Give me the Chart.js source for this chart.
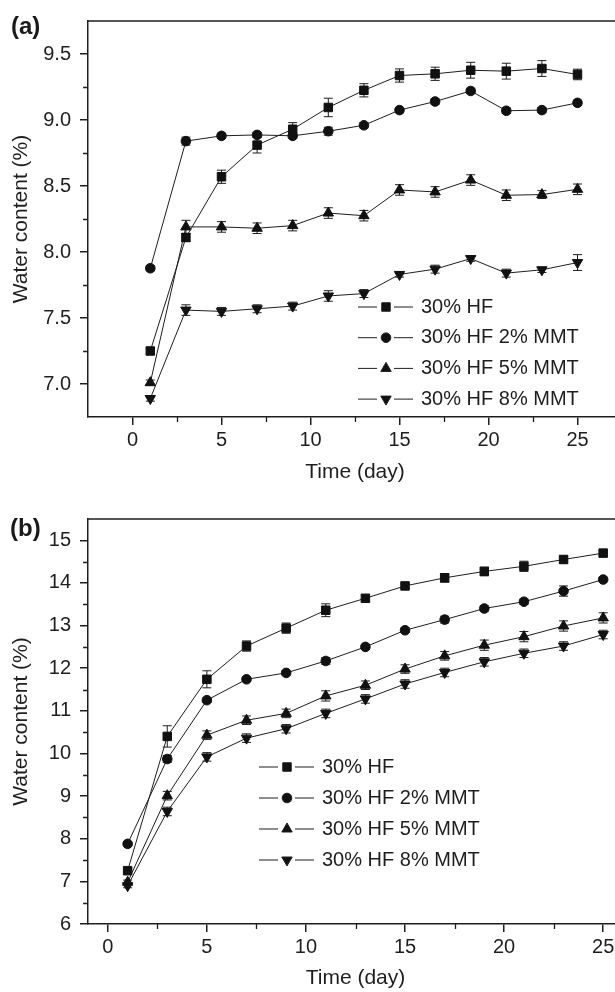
<!DOCTYPE html>
<html>
<head>
<meta charset="utf-8">
<script src="https://cdn.jsdelivr.net/npm/chart.js@4/dist/chart.umd.min.js"></script>
<style>
  html, body { margin: 0; padding: 0; background: #fff; overflow: hidden; }
  #wrap { position: relative; width: 615px; height: 992px; overflow: hidden; }
  canvas { position: absolute; left: 0; }
  #chartA { top: 0; }
  #chartB { top: 495px; }
  .tag { position: absolute; font: bold 24px 'Liberation Sans', Arial, sans-serif; line-height: 1; color: #1a1a1a; }
</style>
</head>
<body>
<div id="wrap">
  <canvas id="chartA" width="630" height="495"></canvas>
  <canvas id="chartB" width="630" height="497"></canvas>
  <div class="tag" style="left:11px; top:14px;">(a)</div>
  <div class="tag" style="left:10px; top:516px;">(b)</div>
</div>
<script>
// sampling days
const days = [1, 3, 5, 7, 9, 11, 13, 15, 17, 19, 21, 23, 25];
const seriesNames = ['30% HF', '30% HF 2% MMT', '30% HF 5% MMT', '30% HF 8% MMT'];

// panel (a)
const aHF   = [7.25, 8.11, 8.57, 8.81, 8.93, 9.095, 9.225, 9.337, 9.35, 9.377, 9.37, 9.39, 9.345];
const aMMT2 = [7.877, 8.84, 8.88, 8.887, 8.88, 8.915, 8.96, 9.075, 9.14, 9.22, 9.07, 9.075, 9.13];
const aMMT5 = [7.01, 8.19, 8.19, 8.18, 8.20, 8.295, 8.275, 8.47, 8.455, 8.545, 8.43, 8.435, 8.475];
const aMMT8 = [6.89, 7.56, 7.55, 7.57, 7.59, 7.667, 7.685, 7.83, 7.87, 7.95, 7.84, 7.865, 7.92];
const aErrHF   = [0.02, 0.03, 0.05, 0.06, 0.05, 0.07, 0.05, 0.05, 0.05, 0.06, 0.06, 0.06, 0.04];
const aErrMMT2 = [0.02, 0.03, 0.02, 0.02, 0.02, 0.03, 0.02, 0.02, 0.02, 0.02, 0.02, 0.02, 0.02];
const aErrMMT5 = [0.02, 0.05, 0.04, 0.04, 0.04, 0.04, 0.04, 0.04, 0.04, 0.04, 0.04, 0.03, 0.04];
const aErrMMT8 = [0.02, 0.04, 0.03, 0.03, 0.03, 0.04, 0.03, 0.02, 0.03, 0.02, 0.03, 0.02, 0.06];

// panel (b)
const bHF   = [7.25, 10.40, 11.74, 12.52, 12.94, 13.36, 13.64, 13.93, 14.12, 14.27, 14.39, 14.55, 14.70];
const bMMT2 = [7.88, 9.87, 11.25, 11.74, 11.89, 12.17, 12.50, 12.89, 13.14, 13.40, 13.56, 13.81, 14.08];
const bMMT5 = [6.98, 9.01, 10.43, 10.78, 10.94, 11.35, 11.60, 11.98, 12.29, 12.54, 12.74, 12.99, 13.18];
const bMMT8 = [6.90, 8.64, 9.92, 10.36, 10.58, 10.94, 11.28, 11.63, 11.90, 12.15, 12.35, 12.52, 12.79];
const bErrHF   = [0.05, 0.25, 0.2, 0.12, 0.12, 0.15, 0.08, 0.05, 0.1, 0.1, 0.12, 0.08, 0.06];
const bErrMMT2 = [0.05, 0.08, 0.05, 0.05, 0.05, 0.08, 0.06, 0.05, 0.08, 0.06, 0.06, 0.12, 0.05];
const bErrMMT5 = [0.05, 0.1, 0.1, 0.1, 0.1, 0.12, 0.1, 0.1, 0.1, 0.12, 0.12, 0.12, 0.12];
const bErrMMT8 = [0.05, 0.1, 0.1, 0.1, 0.1, 0.1, 0.1, 0.1, 0.1, 0.1, 0.1, 0.1, 0.1];

// ticks
const xTicks = [0, 5, 10, 15, 20, 25];
const xMinor = [2.5, 7.5, 12.5, 17.5, 22.5];
const aYTicks = [7.0, 7.5, 8.0, 8.5, 9.0, 9.5];
const aYMinor = [7.25, 7.75, 8.25, 8.75, 9.25];
const bYTicks = [6, 7, 8, 9, 10, 11, 12, 13, 14, 15];
const bYMinor = [6.5, 7.5, 8.5, 9.5, 10.5, 11.5, 12.5, 13.5, 14.5];

const ink = '#1e1e1e';
const FONT = "'Liberation Sans', Arial, Helvetica, sans-serif";
Chart.defaults.font.family = FONT;
Chart.defaults.color = ink;

const markers = [
  { pointStyle: 'rect', radius: 6, rotation: 0 },
  { pointStyle: 'circle', radius: 4.8, rotation: 0 },
  { pointStyle: 'triangle', radius: 6, rotation: 0 },
  { pointStyle: 'triangle', radius: 6, rotation: 180 }
];

function makeDatasets(values, errors) {
  return values.map((vals, i) => ({
    label: seriesNames[i],
    data: days.map((d, j) => ({ x: d, y: vals[j] })),
    errors: errors[i],
    borderColor: ink,
    borderWidth: 1,
    backgroundColor: '#111',
    pointBackgroundColor: '#111',
    pointBorderColor: '#111',
    pointBorderWidth: 1,
    pointStyle: markers[i].pointStyle,
    pointRotation: markers[i].rotation,
    pointRadius: markers[i].radius,
    tension: 0,
    fill: false
  }));
}

// frame, minor ticks and error bars
const framePlugin = {
  id: 'frame',
  beforeDatasetsDraw(chart, args, opts) {
    const { ctx, chartArea: a, scales: { x, y } } = chart;
    ctx.save();
    ctx.strokeStyle = ink;
    ctx.lineWidth = 1.5;
    ctx.beginPath();
    ctx.moveTo(a.left, a.top);
    ctx.lineTo(a.right, a.top);
    ctx.lineTo(a.right, a.bottom);
    ctx.stroke();

    ctx.lineWidth = 1.3;
    ctx.beginPath();
    opts.minorX.forEach(v => {
      const px = Math.round(x.getPixelForValue(v)) + 0.5;
      ctx.moveTo(px, a.bottom);
      ctx.lineTo(px, a.bottom + 5);
    });
    opts.minorY.forEach(v => {
      const py = Math.round(y.getPixelForValue(v)) + 0.5;
      ctx.moveTo(a.left, py);
      ctx.lineTo(a.left - 5, py);
    });
    ctx.stroke();

    ctx.lineWidth = 1;
    ctx.beginPath();
    chart.data.datasets.forEach(ds => {
      ds.data.forEach((p, j) => {
        const e = ds.errors[j];
        const px = x.getPixelForValue(p.x);
        const hi = y.getPixelForValue(p.y + e);
        const lo = y.getPixelForValue(p.y - e);
        ctx.moveTo(px, hi); ctx.lineTo(px, lo);
        ctx.moveTo(px - 4.5, hi); ctx.lineTo(px + 4.5, hi);
        ctx.moveTo(px - 4.5, lo); ctx.lineTo(px + 4.5, lo);
      });
    });
    ctx.stroke();
    ctx.restore();
  }
};

// legend: line - marker - line, then label
const keyPlugin = {
  id: 'key',
  afterDraw(chart, args, opts) {
    const ctx = chart.ctx;
    ctx.save();
    ctx.font = '20px ' + FONT;
    ctx.textBaseline = 'middle';
    ctx.textAlign = 'left';
    chart.data.datasets.forEach((ds, i) => {
      const yy = opts.y0 + i * opts.dy;
      ctx.strokeStyle = ink;
      ctx.lineWidth = 1;
      ctx.beginPath();
      ctx.moveTo(opts.x0, yy); ctx.lineTo(opts.x0 + 19, yy);
      ctx.moveTo(opts.x0 + 36, yy); ctx.lineTo(opts.x0 + 55, yy);
      ctx.stroke();
      ctx.fillStyle = '#111';
      Chart.helpers.drawPoint(ctx, {
        pointStyle: markers[i].pointStyle,
        rotation: markers[i].rotation,
        radius: markers[i].radius,
        borderWidth: 1
      }, opts.x0 + 28, yy);
      ctx.fillStyle = ink;
      ctx.fillText(ds.label, opts.x0 + 63, yy);
    });
    ctx.restore();
  }
};

function makeChart(id, cfg) {
  return new Chart(document.getElementById(id), {
    type: 'line',
    data: { datasets: makeDatasets(cfg.values, cfg.errors) },
    options: {
      responsive: false,
      animation: false,
      devicePixelRatio: 1,
      layout: { padding: cfg.padding },
      plugins: {
        legend: { display: false },
        tooltip: { enabled: false },
        frame: { minorX: xMinor, minorY: cfg.yMinor },
        key: cfg.key
      },
      scales: {
        x: {
          type: 'linear',
          min: cfg.xMin,
          max: cfg.xMax,
          afterBuildTicks: axis => { axis.ticks = xTicks.map(v => ({ value: v })); },
          afterFit: axis => { axis.height = cfg.xHeight; },
          grid: { drawOnChartArea: false, drawTicks: true, tickLength: 8, tickColor: ink, tickWidth: 1.5, lineWidth: 1.5 },
          border: { display: true, color: ink, width: 1.5 },
          ticks: { autoSkip: false, maxRotation: 0, padding: 3, color: ink, font: { size: 20 } },
          title: { display: true, text: 'Time (day)', color: ink, font: { size: 21 }, padding: { top: 0, bottom: cfg.xTitlePad } }
        },
        y: {
          type: 'linear',
          min: cfg.yMin,
          max: cfg.yMax,
          afterBuildTicks: axis => { axis.ticks = cfg.yTicks.map(v => ({ value: v })); },
          afterFit: axis => { axis.width = 88; },
          grid: { drawOnChartArea: false, drawTicks: true, tickLength: 8, tickColor: ink, tickWidth: 1.5, lineWidth: 1.5 },
          border: { display: true, color: ink, width: 1.5 },
          ticks: { autoSkip: false, padding: 9, color: ink, font: { size: 20 }, callback: cfg.yFormat },
          title: { display: true, text: 'Water content (%)', color: ink, font: { size: 21 }, padding: { top: 9, bottom: 0 } }
        }
      }
    },
    plugins: [framePlugin, keyPlugin]
  });
}

makeChart('chartA', {
  values: [aHF, aMMT2, aMMT5, aMMT8],
  errors: [aErrHF, aErrMMT2, aErrMMT5, aErrMMT8],
  padding: { left: 0, top: 16, right: 8, bottom: 0 },
  xMin: -2.5, xMax: 27.5, xHeight: 78, xTitlePad: 10,
  yMin: 6.75, yMax: 9.75, yTicks: aYTicks, yMinor: aYMinor,
  yFormat: v => Number(v).toFixed(1),
  key: { x0: 358, y0: 307, dy: 30.7 }
});

makeChart('chartB', {
  values: [bHF, bMMT2, bMMT5, bMMT8],
  errors: [bErrHF, bErrMMT2, bErrMMT5, bErrMMT8],
  padding: { left: 0, top: 24, right: 2, bottom: 0 },
  xMin: -1, xMax: 26, xHeight: 68, xTitlePad: 1,
  yMin: 6, yMax: 15.5, yTicks: bYTicks, yMinor: bYMinor,
  yFormat: v => String(v),
  key: { x0: 259, y0: 272, dy: 31 }
});
</script>
</body>
</html>
